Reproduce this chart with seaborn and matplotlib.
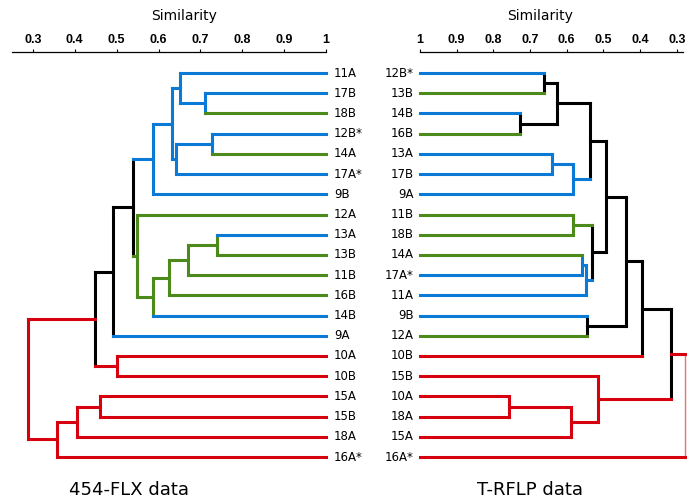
import matplotlib
matplotlib.use("Agg")
import matplotlib.pyplot as plt
import seaborn as sns
import pandas as pd

# ---------------- data ----------------
left_labels = ["11A", "17B", "18B", "12B*", "14A", "17A*", "9B", "12A", "13A", "13B",
               "11B", "16B", "14B", "9A", "10A", "10B", "15A", "15B", "18A", "16A*"]
left_leaf_group = ["b", "b", "g", "b", "g", "b", "b", "g", "b", "g",
                   "g", "g", "b", "b", "r", "r", "r", "r", "r", "r"]
# merges (node ids start at 20)
left_link_a = [1, 0, 3, 22, 21, 24, 8, 26, 27, 28, 7, 25, 31, 14, 32, 16, 35, 36, 34]
left_link_b = [2, 20, 4, 5, 23, 6, 9, 10, 11, 12, 29, 30, 13, 15, 33, 17, 18, 19, 37]
left_link_sim = [0.710, 0.651, 0.728, 0.642, 0.632, 0.587, 0.740, 0.670, 0.625, 0.587,
                 0.548, 0.539, 0.491, 0.500, 0.448, 0.460, 0.405, 0.357, 0.288]
left_link_group = ["b", "b", "b", "b", "b", "b", "g", "g", "g", "g",
                   "g", "k", "k", "r", "k", "r", "r", "r", "r"]
left_leg_group = ["b", "b", "b", "b", "b", "b", "g", "g", "g", "g",
                  "g", "k", "k", "r", "r", "r", "r", "r", None]

right_labels = ["12B*", "13B", "14B", "16B", "13A", "17B", "9A", "11B", "18B", "14A",
                "17A*", "11A", "9B", "12A", "10B", "15B", "10A", "18A", "15A", "16A*"]
right_leaf_group = ["b", "g", "b", "g", "b", "b", "b", "g", "g", "g",
                    "b", "b", "b", "g", "r", "r", "r", "r", "r", "r"]
right_link_a = [0, 2, 20, 4, 23, 22, 7, 9, 27, 26, 25, 12, 30, 32, 16, 34, 15, 33, 37]
right_link_b = [1, 3, 21, 5, 6, 24, 8, 10, 11, 28, 29, 13, 31, 14, 17, 18, 35, 36, 19]
right_link_sim = [0.662, 0.728, 0.627, 0.640, 0.583, 0.537, 0.583, 0.559, 0.548, 0.531,
                  0.493, 0.545, 0.439, 0.395, 0.757, 0.589, 0.515, 0.316, 0.278]
right_link_group = ["k", "k", "k", "b", "b", "k", "g", "b", "b", "k",
                    "k", "k", "k", "k", "r", "r", "r", "k", "r"]
right_leg_group = ["k", "k", "k", "b", "b", "k", "g", "b", "b", "k",
                   "k", "k", "k", "k", "r", "r", "r", "r", None]

left_ticks = [0.3, 0.4, 0.5, 0.6, 0.7, 0.8, 0.9, 1.0]
left_tick_labels = ["0.3", "0.4", "0.5", "0.6", "0.7", "0.8", "0.9", "1"]
right_ticks = [1.0, 0.9, 0.8, 0.7, 0.6, 0.5, 0.4, 0.3]
right_tick_labels = ["1", "0.9", "0.8", "0.7", "0.6", "0.5", "0.4", "0.3"]

axis_title = "Similarity"
left_caption = "454-FLX data"
right_caption = "T-RFLP data"

PALETTE = {"b": "#0a7ad6", "g": "#4c8a1c", "r": "#d6000f", "k": "#000000"}


def build_segments(labels, leaf_group, la, lb, sim, grp, leg_grp):
    n = len(labels)
    ypos = [float(i) for i in range(n)]
    hgt = [1.0] * n
    legc = list(leaf_group)
    rows = []
    seg = 0
    last = len(la) - 1
    for k, (a, b, s, g, lg) in enumerate(zip(la, lb, sim, grp, leg_grp)):
        ya, yb = ypos[a], ypos[b]
        kind = "root" if k == last else "vert"
        rows += [(seg, kind, g, s, ya), (seg, kind, g, s, yb)]
        seg += 1
        for c in (a, b):
            rows += [(seg, "leg", legc[c], hgt[c], ypos[c]),
                     (seg, "leg", legc[c], s, ypos[c])]
            seg += 1
        ypos.append((ya + yb) / 2)
        hgt.append(s)
        legc.append(lg)
    return pd.DataFrame(rows, columns=["seg", "kind", "group", "sim", "y"])


sns.set_theme(style="white")
plt.rcParams["font.family"] = ["DejaVu Sans"]
plt.rcParams["text.color"] = "black"
plt.rcParams["xtick.color"] = "black"
plt.rcParams["xtick.labelcolor"] = "black"

fig = plt.figure(figsize=(6.87, 5.01), dpi=100)
W, H = 687.0, 501.0
ax_l = fig.add_axes([12 / W, (H - 470) / H, 314 / W, 418 / H])
ax_r = fig.add_axes([420 / W, (H - 470) / H, 263 / W, 418 / H])

LW = 2.2
configs = [
    (ax_l, left_labels, left_leaf_group, left_link_a, left_link_b, left_link_sim,
     left_link_group, left_leg_group, (0.25, 1.0), left_ticks, left_tick_labels, "left"),
    (ax_r, right_labels, right_leaf_group, right_link_a, right_link_b, right_link_sim,
     right_link_group, right_leg_group, (1.0, 0.283), right_ticks, right_tick_labels, "right"),
]

for (ax, labels, lgrp, la, lb, sim, grp, leg, xlim, ticks, tlabels, side) in configs:
    df = build_segments(labels, lgrp, la, lb, sim, grp, leg)
    verts = df[df.kind == "vert"]
    root = df[df.kind == "root"]
    legs = df[df.kind == "leg"]
    sns.lineplot(data=verts, x="sim", y="y", hue="group", units="seg", estimator=None,
                 palette=PALETTE, legend=False, sort=False, ax=ax, linewidth=LW,
                 solid_capstyle="projecting", clip_on=False)
    if side == "right":
        sns.lineplot(data=root, x="sim", y="y", units="seg", estimator=None,
                     color="#ee7070", legend=False, sort=False, ax=ax, linewidth=1.0,
                     clip_on=False)
    else:
        sns.lineplot(data=root, x="sim", y="y", hue="group", units="seg", estimator=None,
                     palette=PALETTE, legend=False, sort=False, ax=ax, linewidth=LW,
                     solid_capstyle="projecting", clip_on=False)
    sns.lineplot(data=legs, x="sim", y="y", hue="group", units="seg", estimator=None,
                 palette=PALETTE, legend=False, sort=False, ax=ax, linewidth=LW,
                 solid_capstyle="projecting", clip_on=False)

    ax.set_xlim(*xlim)
    ax.set_ylim(19.64, -1.04)
    ax.set_xlabel("")
    ax.set_ylabel("")
    for sp in ("left", "right", "bottom"):
        ax.spines[sp].set_visible(False)
    ax.spines["top"].set_visible(True)
    ax.spines["top"].set_linewidth(0.9)
    ax.spines["top"].set_color("black")
    ax.xaxis.tick_top()
    ax.set_xticks(ticks)
    ax.set_xticklabels(tlabels, fontfamily="Liberation Sans", fontweight="bold",
                       fontsize=9, color="black")
    ax.tick_params(axis="x", direction="out", length=2.5, width=0.8, pad=1.5, colors="black")
    ax.set_yticks([])
    ax.patch.set_alpha(0)

    for i, lab in enumerate(labels):
        if side == "left":
            ax.annotate(lab, xy=(1.0, i), xytext=(8, 0), textcoords="offset pixels",
                        ha="left", va="center", fontsize=8.5, color="black",
                        annotation_clip=False)
        else:
            ax.annotate(lab, xy=(1.0, i), xytext=(-6, 0), textcoords="offset pixels",
                        ha="right", va="center", fontsize=8.5, color="black",
                        annotation_clip=False)

fig.text(184 / W, 1 - 16 / H, axis_title, ha="center", va="center", fontsize=10, color="black")
fig.text(540 / W, 1 - 16 / H, axis_title, ha="center", va="center", fontsize=10, color="black")
fig.text(129 / W, 1 - 490 / H, left_caption, ha="center", va="center", fontsize=13, color="black")
fig.text(530 / W, 1 - 490 / H, right_caption, ha="center", va="center", fontsize=13, color="black")

fig.savefig("out.png", dpi=100)
